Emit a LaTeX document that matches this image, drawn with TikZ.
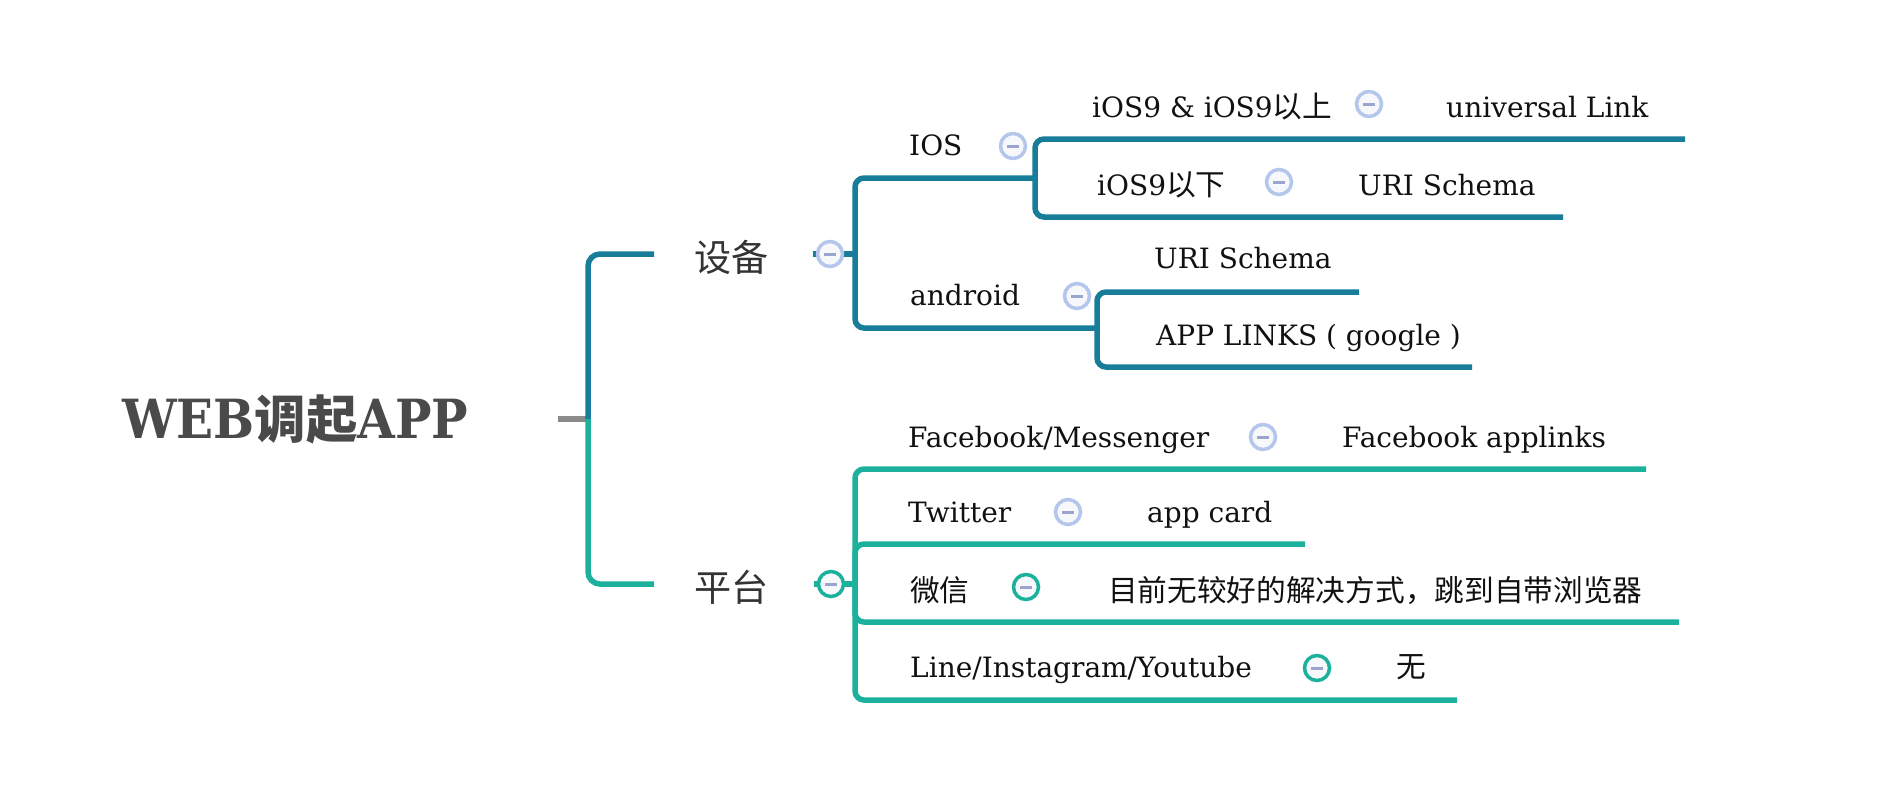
\documentclass[tikz,border=0pt]{standalone}
\usepackage{fontspec}
\setmainfont{DejaVu Serif}
\newfontfamily\rootfont{DejaVu Serif Condensed}
\newfontfamily\cjk[Scale=1.06]{Noto Sans CJK SC}
\newcommand{\zh}[1]{{\cjk #1}}
\usetikzlibrary{backgrounds}

\definecolor{devblue}{HTML}{177D99}
\definecolor{platteal}{HTML}{1CB19C}
\definecolor{stubgray}{HTML}{8A8A8A}
\definecolor{btnring}{HTML}{B5C6EC}
\definecolor{btnminus}{HTML}{9AA4CE}
\definecolor{btnfill}{HTML}{F6F8FC}
\definecolor{roottext}{HTML}{4A4A4A}
\definecolor{maintext}{HTML}{333333}
\definecolor{leaftext}{HTML}{111111}

\begin{document}
\begin{tikzpicture}[x=1pt,y=-1pt,
  root/.style={anchor=base west,inner sep=0pt,text=roottext,font=\rootfont\bfseries\fontsize{54}{60}\selectfont},
  branch/.style={anchor=base west,inner sep=0pt,text=maintext,font=\fontsize{35}{42}\selectfont\cjk},
  leaf/.style={anchor=base west,inner sep=0pt,text=leaftext,font=\fontsize{28}{34}\selectfont},
  btn/.style={circle,draw=btnring,fill=btnfill,line width=3.5pt,minimum size=25pt,inner sep=0pt,
    path picture={\draw[btnminus,line width=3pt]
      ([xshift=-6pt]path picture bounding box.center) -- ([xshift=6pt]path picture bounding box.center);}},
  btnteal/.style={btn,draw=platteal},
  link/.style={line width=5.5pt,rounded corners=9pt}]

\useasboundingbox (0,0) rectangle (1878,796);

% Root
\node[root] (web) at (122,438) {WEB{\fontsize{48.5}{56}\selectfont\cjk 调起}APP};

% First level
\node[branch] (dev) at (694,271) {设备};
\node[branch] (plat) at (694,601) {平台};
\node[btn] (dev-btn) at (830,254) {};
\node[btnteal] (plat-btn) at (831,584) {};

% Devices
\node[leaf] (ios) at (909,155) {IOS};
\node[btn] (ios-btn) at (1013,146) {};
\node[leaf] (andr) at (910,305) {android};
\node[btn] (andr-btn) at (1077,296) {};

\node[leaf] (ios9up) at (1092,117) {iOS9 \& iOS9\zh{以上}};
\node[btn] (ios9up-btn) at (1369,104) {};
\node[leaf] (ulink) at (1446,117) {universal Link};
\node[leaf] (ios9dn) at (1097,195) {iOS9\zh{以下}};
\node[btn] (ios9dn-btn) at (1279,182) {};
\node[leaf] (uri-ios) at (1358,195) {URI Schema};

\node[leaf] (uri-andr) at (1154,268) {URI Schema};
\node[leaf] (applinks) at (1156,345) {APP LINKS ( google )};

% Platforms
\node[leaf] (fb) at (908,447) {Facebook/Messenger};
\node[btn] (fb-btn) at (1263,437) {};
\node[leaf] (fb-al) at (1342,447) {Facebook applinks};
\node[leaf] (tw) at (908,522) {Twitter};
\node[btn] (tw-btn) at (1068,512) {};
\node[leaf] (tw-card) at (1147,522) {app card};
\node[leaf] (wx) at (910,601) {\zh{微信}};
\node[btnteal] (wx-btn) at (1026,587) {};
\node[leaf] (wx-none) at (1108,601) {\zh{目前无较好的解决方式，跳到自带浏览器}};
\node[leaf] (line) at (910,677) {Line/Instagram/Youtube};
\node[btnteal] (line-btn) at (1317,668) {};
\node[leaf] (line-none) at (1396,677) {\zh{无}};

% Junctions and line ends
\coordinate (web-s) at (558,419);
\coordinate (web-j) at (588,419);
\coordinate (dev-e) at (654,254);
\coordinate (plat-e) at (654,584);
\coordinate (dev-j) at (855,254);
\coordinate (plat-j) at (855,584);
\coordinate (ios-j) at (1035,178);
\coordinate (andr-j) at (1097,328);
\coordinate (ios9up-e) at (1685,139);
\coordinate (ios9dn-e) at (1563,217);
\coordinate (uri-andr-e) at (1359,292);
\coordinate (applinks-e) at (1472,367);
\coordinate (fb-e) at (1646,469);
\coordinate (tw-e) at (1305,544);
\coordinate (wx-e) at (1679,622);
\coordinate (line-e) at (1457,700);

\begin{scope}[on background layer]
\fill[white] (0,0) rectangle (1878,796);

% Root stub and main bracket
\draw[stubgray,line width=6pt] (web-s) -- (web-j);
\draw[link,devblue,rounded corners=12pt] (web-j) |- (dev-e);
\draw[link,platteal,rounded corners=12pt] (web-j) |- (plat-e);

% Device branch
\draw[link,devblue] ([xshift=-17pt]dev-btn.center) -- (dev-j);
\draw[link,devblue] (dev-j) |- (ios-j);
\draw[link,devblue] (dev-j) |- (andr-j);
\draw[link,devblue] (ios-j) |- (ios9up-e);
\draw[link,devblue] (ios-j) |- (ios9dn-e);
\draw[link,devblue] (andr-j) |- (uri-andr-e);
\draw[link,devblue] (andr-j) |- (applinks-e);

% Platform branch
\draw[link,platteal] ([xshift=-17pt]plat-btn.center) -- (plat-j);
\draw[link,platteal] (plat-j) |- (fb-e);
\draw[link,platteal] (plat-j) |- (tw-e);
\draw[link,platteal] (plat-j) |- (wx-e);
\draw[link,platteal] (plat-j) |- (line-e);
\end{scope}

\end{tikzpicture}
\end{document}
